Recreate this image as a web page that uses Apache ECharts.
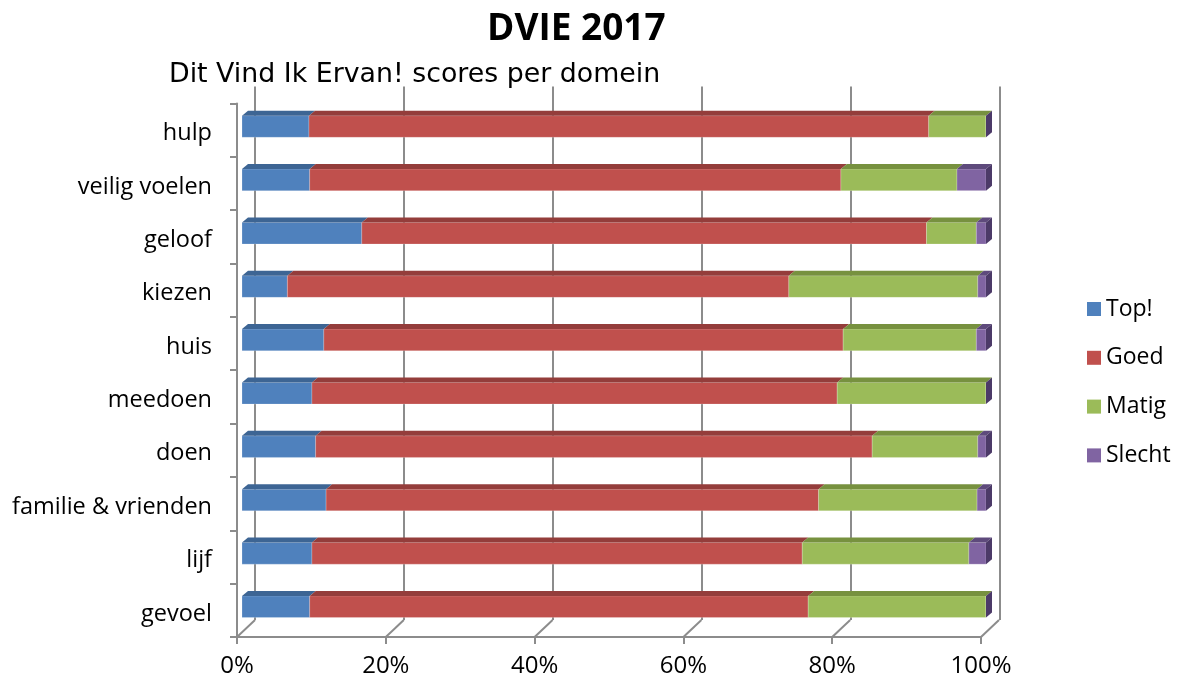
<!DOCTYPE html>
<html>
<head>
<meta charset="utf-8">
<script src="https://cdn.jsdelivr.net/npm/echarts@6/dist/echarts.min.js"></script>
<style>
html,body{margin:0;padding:0;background:#fff;}
#chart{width:1180px;height:683px;}
</style>
</head>
<body>
<div id="chart"></div>
<script>
// ---- data ----
var categories = ['hulp','veilig voelen','geloof','kiezen','huis','meedoen','doen','familie & vrienden','lijf','gevoel'];
var seriesNames = ['Top!','Goed','Matig','Slecht'];
var topVals    = [9.0, 9.1, 16.1, 6.1, 11.0, 9.4, 9.9, 11.3, 9.4, 9.1];
var goedVals   = [83.3, 71.4, 75.9, 67.4, 69.8, 70.6, 74.8, 66.2, 65.9, 67.0];
var matigVals  = [7.7, 15.6, 6.7, 25.4, 17.9, 20.0, 14.2, 21.3, 22.4, 23.9];
var slechtVals = [0.0, 3.9, 1.3, 1.1, 1.3, 0.0, 1.1, 1.2, 2.3, 0.0];
var xTicks = [0, 20, 40, 60, 80, 100];

// ---- styles ----
var frontColors = ['#4F81BD','#C0504D','#9BBB59','#8064A2'];
var topColors   = ['#3D6594','#943D3B','#77913F','#5E4A7C'];
var sideColors  = ['#2F4F74','#7A3230','#5F7432','#4C3A68'];
var FONT = "'Open Sans', 'Liberation Sans', sans-serif";
var DX = 18, DY = -17;        // wall depth
var BX = 5, BY = -3.6;        // bar offset from front plane
var TX = 6, TY = -5;          // bar depth

var allVals = [topVals, goedVals, matigVals, slechtVals];

function buildData(k) {
  var out = [];
  for (var i = 0; i < categories.length; i++) {
    var total = 0, start = 0;
    for (var j = 0; j < allVals.length; j++) total += allVals[j][i];
    for (var j = 0; j < k; j++) start += allVals[j][i];
    var s = start / total * 100;
    var e = (start + allVals[k][i]) / total * 100;
    out.push([s, e, i]);
  }
  return out;
}

function makeBarSeries(k) {
  return {
    type: 'custom',
    name: seriesNames[k],
    xAxisIndex: 0, yAxisIndex: 0,
    itemStyle: { color: frontColors[k] },
    encode: { x: [0, 1], y: 2 },
    data: buildData(k),
    z: 10 + k,
    renderItem: function (params, api) {
      var s = api.value(0), e = api.value(1), c = api.value(2);
      var p0 = api.coord([s, c]);
      var p1 = api.coord([e, c]);
      var band = api.size([0, 1])[1];
      var h = band * 0.405;
      var x0 = p0[0] + BX, x1 = p1[0] + BX;
      var yc = p0[1] + BY;
      var yt = yc - h / 2, yb = yc + h / 2;
      var children = [];
      children.push({
        type: 'rect',
        shape: { x: x0, y: yt, width: Math.max(x1 - x0, 0), height: h },
        style: { fill: frontColors[k], stroke: 'rgba(255,255,255,0.35)', lineWidth: 0.6 }
      });
      children.push({
        type: 'polygon',
        shape: { points: [[x0, yt], [x0 + TX, yt + TY], [x1 + TX, yt + TY], [x1, yt]] },
        style: { fill: topColors[k] }
      });
      if (k === seriesNames.length - 1) {
        children.push({
          type: 'polygon',
          shape: { points: [[x1, yt], [x1 + TX, yt + TY], [x1 + TX, yb + TY], [x1, yb]] },
          style: { fill: sideColors[k] }
        });
      }
      return { type: 'group', children: children };
    }
  };
}

var series = [];
for (var k = 0; k < seriesNames.length; k++) series.push(makeBarSeries(k));

// floor diagonals
series.push({
  type: 'custom',
  name: 'floor',
  xAxisIndex: 0, yAxisIndex: 0,
  data: xTicks.map(function (v) { return [v, categories.length - 1]; }),
  encode: { x: 0, y: 1 },
  z: 2,
  silent: true,
  itemStyle: { color: '#888' },
  renderItem: function (params, api) {
    var p = api.coord([api.value(0), api.value(1)]);
    var band = api.size([0, 1])[1];
    var yb = p[1] + band / 2;
    return {
      type: 'line',
      shape: { x1: p[0], y1: yb, x2: p[0] + DX, y2: yb + DY },
      style: { stroke: '#8C8C8C', lineWidth: 2 }
    };
  }
});

var option = {
  animation: false,
  backgroundColor: '#fff',
  title: [
    { text: 'DVIE 2017', left: 482, top: 6,
      textStyle: { fontFamily: FONT, fontWeight: 'bold', fontSize: 37, color: '#000' } },
    { text: 'Dit Vind Ik Ervan! scores per domein', left: 164, top: 57,
      textStyle: { fontFamily: "'DejaVu Sans', sans-serif", fontWeight: 'normal', fontSize: 26.8, color: '#000' } }
  ],
  legend: {
    orient: 'vertical',
    left: 1082, top: 292,
    itemWidth: 14, itemHeight: 14,
    itemGap: 24.8,
    icon: 'rect',
    data: seriesNames,
    textStyle: { fontFamily: FONT, fontSize: 23, color: '#000', lineHeight: 24, padding: [0, 0, 0, 0] }
  },
  grid: [
    { left: 237, top: 103.4, width: 744, height: 533.6 },
    { left: 255, top: 86.4, width: 745, height: 533.6 }
  ],
  xAxis: [
    { type: 'value', gridIndex: 0, min: 0, max: 100, interval: 20,
      axisLine: { show: true, lineStyle: { color: '#8C8C8C', width: 2 } },
      axisTick: { show: true, length: 7, lineStyle: { color: '#8C8C8C', width: 2 } },
      splitLine: { show: false },
      axisLabel: { formatter: '{value}%', fontFamily: FONT, fontSize: 24, color: '#000', margin: 17 } },
    { type: 'value', gridIndex: 1, min: 0, max: 100, interval: 20,
      axisLine: { show: false }, axisTick: { show: false }, axisLabel: { show: false },
      splitLine: { show: true, lineStyle: { color: '#8C8C8C', width: 2 } } }
  ],
  yAxis: [
    { type: 'category', gridIndex: 0, data: categories, inverse: true,
      axisLine: { show: true, lineStyle: { color: '#8C8C8C', width: 2 } },
      axisTick: { show: true, length: 7, lineStyle: { color: '#8C8C8C', width: 2 } },
      splitLine: { show: false },
      axisLabel: { margin: 25,
        formatter: function (v) { return '{a|' + v + '}'; },
        rich: { a: { fontFamily: FONT, fontSize: 23.5, color: '#000', padding: [7, 0, 0, 0] } } } },
    { type: 'category', gridIndex: 1, data: categories, inverse: true, show: false }
  ],
  series: series
};

var chart = echarts.init(document.getElementById('chart'), null, { renderer: 'canvas' });
chart.setOption(option);
</script>
</body>
</html>
